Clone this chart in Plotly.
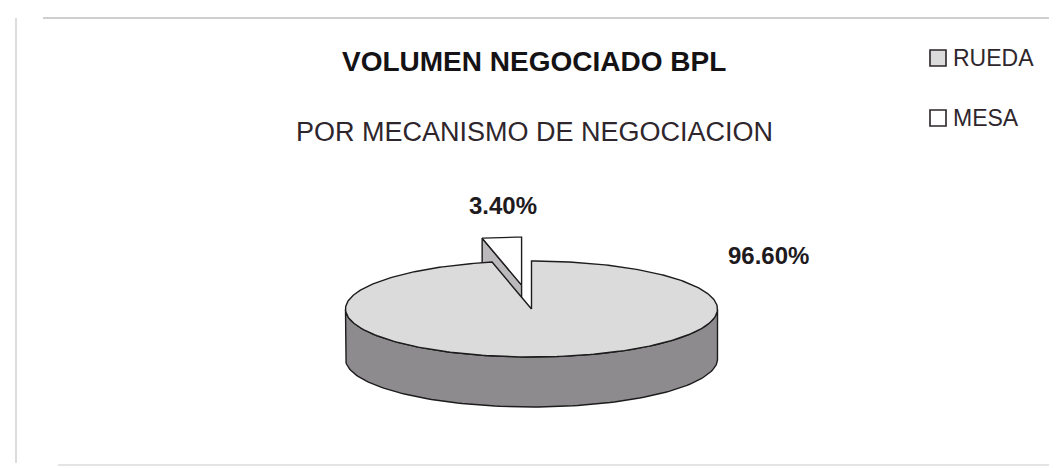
import numpy as np
import plotly.graph_objects as go

# ---- data ----
categories = ["RUEDA", "MESA"]
values = [96.6, 3.4]
value_labels = ["96.60%", "3.40%"]
title_line1 = "VOLUMEN NEGOCIADO BPL"
title_line2 = "POR MECANISMO DE NEGOCIACION"

# ---- style / layout constants ----
W, H = 1057, 468
CX, CY = 523.5, 301.0      # centre of the pie top face (px)
RA, RB = 186.0, 48.0       # ellipse semi axes
DEPTH = 50.0               # thickness of the 3-D pie
EXPLODE = [0.0, 0.5]       # pull-out fraction per slice
TOP_COL = ["#dcdbdc", "#ffffff"]
SIDE_FRONT = "#8e8b8e"
SIDE_CUT = "#bbb9bb"
EDGE = "#1c1c1c"
FONT = "Liberation Sans, Arial, sans-serif"
TXT = "#2e262c"


def pt(theta_deg, ox=0.0, oy=0.0, dz=0.0):
    t = np.deg2rad(theta_deg)
    return CX + ox + RA * np.sin(t), CY + oy - RB * np.cos(t) + dz


def arc(t0, t1, ox=0.0, oy=0.0, dz=0.0, n=120):
    ts = np.linspace(t0, t1, n)
    xs, ys = pt(ts, ox, oy, dz)
    return list(xs), list(ys)


fig = go.Figure()

def poly(xs, ys, fill, width=1.4):
    fig.add_trace(go.Scatter(x=xs + [xs[0]], y=ys + [ys[0]], mode="lines",
                             fill="toself", fillcolor=fill,
                             line=dict(color=EDGE, width=width),
                             hoverinfo="skip", showlegend=False))

# slice angles (clockwise from 12 o'clock)
total = sum(values)
starts, ends = [], []
acc = 0.0
for v in values:
    starts.append(acc / total * 360.0)
    acc += v
    ends.append(acc / total * 360.0)
offsets = []
for i in range(len(values)):
    mid = np.deg2rad((starts[i] + ends[i]) / 2)
    offsets.append((EXPLODE[i] * RA * np.sin(mid), -EXPLODE[i] * RB * np.cos(mid)))

# --- exploded slice (MESA): visible cut face then top face ---
i = 1
ox, oy = offsets[i]
tx, ty = CX + ox, CY + oy
px, py = pt(starts[i], ox, oy)
poly([tx, px, px, tx], [ty, py, py + DEPTH, ty + DEPTH], SIDE_CUT)
ax_, ay_ = arc(starts[i], ends[i], ox, oy, n=30)
poly([tx] + ax_, [ty] + ay_, TOP_COL[i])

# --- main slice (RUEDA): front wall then top face ---
i = 0
ox, oy = offsets[i]
fx, fy = arc(90, 270, ox, oy)
bx, by = arc(270, 90, ox, oy, dz=DEPTH)
poly(fx + bx, fy + by, SIDE_FRONT)
ax_, ay_ = arc(starts[i], ends[i], ox, oy, n=300)
poly([CX + ox] + ax_, [CY + oy] + ay_, TOP_COL[i])

# ---- texts ----
ann = []
ann.append(dict(x=526, y=53, text="<b>%s</b>" % title_line1, showarrow=False,
                font=dict(family=FONT, size=28, color="#141214"),
                xanchor="center", yanchor="middle"))
ann.append(dict(x=526, y=124, text=title_line2, showarrow=False,
                font=dict(family=FONT, size=27, color=TXT),
                xanchor="center", yanchor="middle"))
label_pos = [(760, 247), (495, 197)]
for (lx, ly), t in zip(label_pos, value_labels):
    ann.append(dict(x=lx, y=ly, text="<b>%s</b>" % t, showarrow=False,
                    font=dict(family=FONT, size=24, color="#1e1a1e"),
                    xanchor="center", yanchor="middle"))

# legend (manual)
shapes = []
leg_y = [50, 110]
for k, (name, yy) in enumerate(zip(categories, leg_y)):
    shapes.append(dict(type="rect", x0=922, x1=938, y0=yy - 8, y1=yy + 8,
                       line=dict(color="#2a2429", width=1.6), fillcolor=TOP_COL[k]))
    ann.append(dict(x=943, y=yy, text=name, showarrow=False,
                    font=dict(family=FONT, size=23, color=TXT),
                    xanchor="left", yanchor="middle"))

# faint frame (top, left, bottom edges of the scanned chart box)
frame_col = "#dcdcdc"
shapes.append(dict(type="line", x0=35, x1=1057, y0=10, y1=10,
                   line=dict(color="#cfcfcf", width=2), layer="below"))
shapes.append(dict(type="line", x0=8, x1=8, y0=10, y1=455,
                   line=dict(color=frame_col, width=2), layer="below"))
shapes.append(dict(type="line", x0=50, x1=1057, y0=457, y1=457,
                   line=dict(color="#e4e4e4", width=2), layer="below"))

fig.update_layout(
    width=W, height=H, margin=dict(l=0, r=0, t=0, b=0),
    paper_bgcolor="white", plot_bgcolor="white",
    xaxis=dict(range=[0, W], visible=False, fixedrange=True),
    yaxis=dict(range=[H, 0], visible=False, fixedrange=True),
    annotations=ann, shapes=shapes, showlegend=False,
)
fig.write_html("out.html")
